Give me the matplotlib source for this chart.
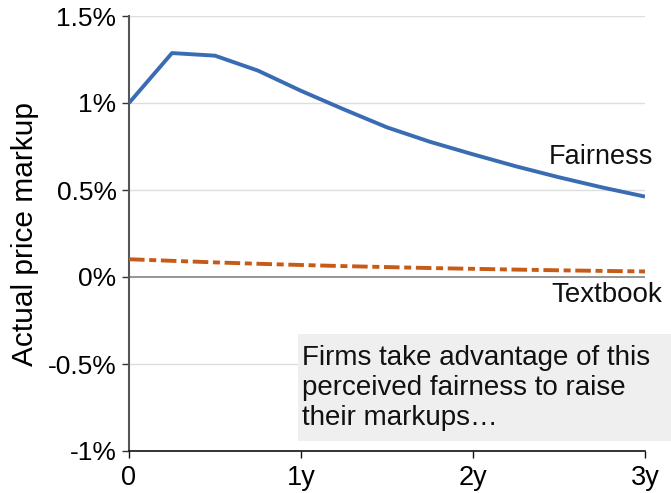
import matplotlib
matplotlib.use("Agg")
import matplotlib.pyplot as plt
from matplotlib.patches import Rectangle
import numpy as np

plt.rcParams['font.family'] = ['Liberation Sans', 'DejaVu Sans']

# Quarterly horizon, in years
quarters = np.arange(13) / 4.0
fairness = [1.00, 1.287, 1.272, 1.186, 1.070, 0.963, 0.860, 0.777, 0.705,
            0.636, 0.573, 0.515, 0.462]
textbook = [0.102, 0.093, 0.084, 0.076, 0.069, 0.0625, 0.057, 0.0515, 0.047,
            0.0425, 0.0385, 0.035, 0.032]
y_ticks = [-1.0, -0.5, 0.0, 0.5, 1.0, 1.5]
y_ticklabels = ["-1%", "-0.5%", "0%", "0.5%", "1%", "1.5%"]
x_ticks = [0, 1, 2, 3]
x_ticklabels = ["0", "1y", "2y", "3y"]

W, H = 671, 493
fig = plt.figure(figsize=(W / 100, H / 100), dpi=100)
ax = fig.add_axes([129 / W, 1 - 451 / H, (645 - 129) / W, (451 - 16) / H])

ax.set_xlim(0, 3)
ax.set_ylim(-1.0, 1.5)

# horizontal gridlines and zero line
for yv in y_ticks:
    if yv == 0.0:
        ax.axhline(yv, color="#8c8c8c", lw=1.3, zorder=1)
    elif yv != -1.0:
        ax.axhline(yv, color="#dedede", lw=1.0, zorder=0)

ax.plot(quarters, fairness, color="#3a6cb4", lw=2.8, solid_capstyle="butt",
        zorder=3)
ax.plot(quarters, textbook, color="#c75a16", lw=2.8,
        dashes=(4.0, 1.2, 1.8, 1.2), zorder=3)

ax.set_yticks(y_ticks)
ax.set_yticklabels(y_ticklabels)
ax.set_xticks(x_ticks)
ax.set_xticklabels(x_ticklabels)
ax.tick_params(axis="y", direction="out", length=5, width=1.0, color="#333333",
               labelsize=19, pad=4)
ax.tick_params(axis="x", direction="out", length=5, width=1.0, color="#111111",
               labelsize=19.5, pad=5)

for side in ("top", "right"):
    ax.spines[side].set_visible(False)
ax.spines["left"].set_color("#555555")
ax.spines["left"].set_linewidth(1.5)
ax.spines["bottom"].set_color("#111111")
ax.spines["bottom"].set_linewidth(1.2)

ax.set_ylabel("Actual price markup", fontsize=21.5, labelpad=6)

ax.text(3.045, 0.649, "Fairness", ha="right", va="baseline", fontsize=19.5,
        color="#111111")
ax.text(3.10, -0.144, "Textbook", ha="right", va="baseline", fontsize=20,
        color="#111111", clip_on=False)

# shaded note box
fig.patches.append(Rectangle((298 / W, 1 - 441 / H), (671 - 298) / W,
                             (441 - 334) / H, transform=fig.transFigure,
                             facecolor="#efefef", edgecolor="none", zorder=2))
note = ["Firms take advantage of this",
        "perceived fairness to raise",
        "their markups…"]
for i, line in enumerate(note):
    fig.text(302 / W, 1 - (365 + 30 * i) / H, line, ha="left", va="baseline",
             fontsize=20, color="#111111", zorder=4)

fig.savefig("out.png", dpi=100)
